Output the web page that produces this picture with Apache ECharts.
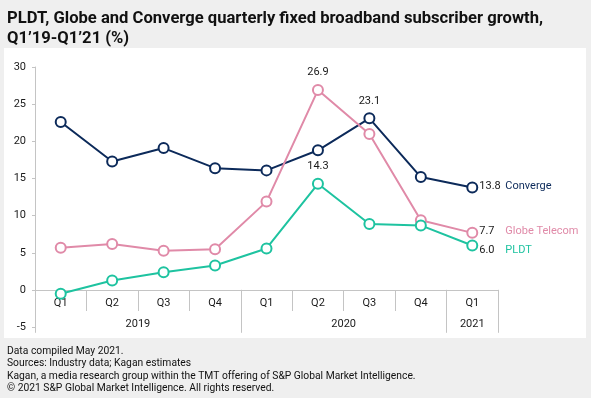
<!DOCTYPE html>
<html style="height: 100%">
<head>
<meta charset="utf-8">
<title>ECharts</title>
<script src="https://cdn.jsdelivr.net/npm/echarts@6/dist/echarts.min.js"></script>
</head>
<body style="height: 100%; margin: 0; background: #efefef">
<div id="container" style="width: 591px; height: 398px"></div>
<script type="text/javascript">
// 数据
var quarters = ['Q1', 'Q2', 'Q3', 'Q4', 'Q1', 'Q2', 'Q3', 'Q4', 'Q1'];
var years = ['2019', '2020', '2021'];
var yearQuarterCount = [4, 4, 1];
var converge = [22.6, 17.3, 19.1, 16.4, 16.1, 18.8, 23.1, 15.2, 13.8];
var globe = [5.7, 6.2, 5.3, 5.5, 11.9, 26.9, 21.0, 9.4, 7.7];
var pldt = [-0.5, 1.3, 2.4, 3.3, 5.6, 14.3, 8.9, 8.7, 6.0];
var yTicks = [-5, 0, 5, 10, 15, 20, 25, 30];

var font = 'Roboto';
var textColor = '#1a1a1a';

// year axis: half-quarter points, label at group center, ticks at group edges
var yearAxisData = [], yearLabelIdx = {}, yearTickIdx = {0: true};
var pos = 0;
for (var i = 0; i < years.length; i++) {
	var span = yearQuarterCount[i] * 2;
	yearLabelIdx[pos + span / 2] = years[i];
	pos += span;
	yearTickIdx[pos] = true;
}
for (var k = 0; k <= pos; k++) {
	yearAxisData.push(yearLabelIdx[k] || '');
}

function buildData(values, peakIdx, endOffset, name, color) {
	var out = [];
	for (var i = 0; i < values.length; i++) {
		var item = { value: values[i] };
		if (i === peakIdx) {
			item.label = {
				show: true, position: 'top', distance: 6,
				formatter: function(p) { return p.value.toFixed(1); },
				color: textColor, fontSize: 11, fontFamily: font
			};
		}
		if (i === values.length - 1) {
			item.label = {
				show: true, position: 'right', distance: 1, offset: endOffset,
				formatter: '{v|' + values[i].toFixed(1) + '}{n|' + name + '}',
				rich: {
					v: { color: textColor, fontSize: 11, fontFamily: font, width: 26 },
					n: { color: color, fontSize: 11, fontFamily: font }
				}
			};
		}
		out.push(item);
	}
	return out;
}

function lineSeries(name, values, color, peakIdx, endOffset) {
	return {
		name: name,
		type: 'line',
		data: buildData(values, peakIdx, endOffset, name, color),
		symbol: 'circle',
		symbolSize: 10,
		lineStyle: { color: color, width: 2 },
		itemStyle: { color: '#ffffff', borderColor: color, borderWidth: 2 },
		emphasis: { disabled: true },
		z: 3
	};
}

var myChart = echarts.init(document.getElementById('container'));

var option = {
	backgroundColor: '#efefef',
	animation: false,
	title: [{
		text: 'PLDT, Globe and Converge quarterly fixed broadband subscriber growth,\nQ1\u201919-Q1\u201921 (%)',
		left: 2,
		top: 4,
		textStyle: {
			fontFamily: font, fontSize: 16.6, fontWeight: 'bold', lineHeight: 20, color: '#111'
		}
	}, {
		text: 'Data compiled May 2021.\nSources: Industry data; Kagan estimates\nKagan, a media research group within the TMT offering of S&P Global Market Intelligence.\n\u00a9 2021 S&P Global Market Intelligence. All rights reserved.',
		left: 2,
		top: 340,
		textStyle: {
			fontFamily: font, fontSize: 10.3, fontWeight: 'normal', lineHeight: 12.4, color: '#111'
		}
	}],
	graphic: [{
		type: 'rect',
		z: -10,
		shape: { x: 4, y: 48, width: 582, height: 290 },
		style: { fill: '#ffffff' }
	}],
	grid: { left: 35, right: 93, top: 67, bottom: 70.7 },
	xAxis: [{
		type: 'category',
		data: quarters,
		position: 'bottom',
		offset: -37.3,
		axisLine: { onZero: false, lineStyle: { color: '#c4c4c4', width: 1 } },
		axisTick: { show: true, interval: 0, length: 21, lineStyle: { color: '#c4c4c4' } },
		axisLabel: { interval: 0, margin: 8, color: textColor, fontSize: 11, fontFamily: font },
		splitLine: { show: false }
	}, {
		type: 'category',
		data: yearAxisData,
		boundaryGap: false,
		position: 'bottom',
		offset: 5.5,
		axisLine: { show: false, onZero: false },
		axisTick: {
			show: true, inside: true, length: 43,
			interval: function(idx) { return !!yearTickIdx[idx]; },
			lineStyle: { color: '#c4c4c4' }
		},
		axisLabel: {
			inside: true, margin: 3,
			interval: function(idx) { return !!yearLabelIdx[idx]; },
			color: textColor, fontSize: 11, fontFamily: font
		},
		splitLine: { show: false }
	}],
	yAxis: [{
		type: 'value',
		min: yTicks[0],
		max: yTicks[yTicks.length - 1],
		interval: 5,
		axisLine: { show: true, onZero: false, lineStyle: { color: '#c4c4c4' } },
		axisTick: { show: true, length: 3, lineStyle: { color: '#c4c4c4' } },
		axisLabel: { margin: 9, color: textColor, fontSize: 11, fontFamily: font },
		splitLine: { show: false }
	}],
	series: [
		lineSeries('Converge', converge, '#0c2a5a', 6, [0, -1]),
		lineSeries('Globe Telecom', globe, '#e08aa8', 5, [0, -2]),
		lineSeries('PLDT', pldt, '#1ec3a0', 5, [0, 5])
	]
};

myChart.setOption(option);
</script>
</body>
</html>
